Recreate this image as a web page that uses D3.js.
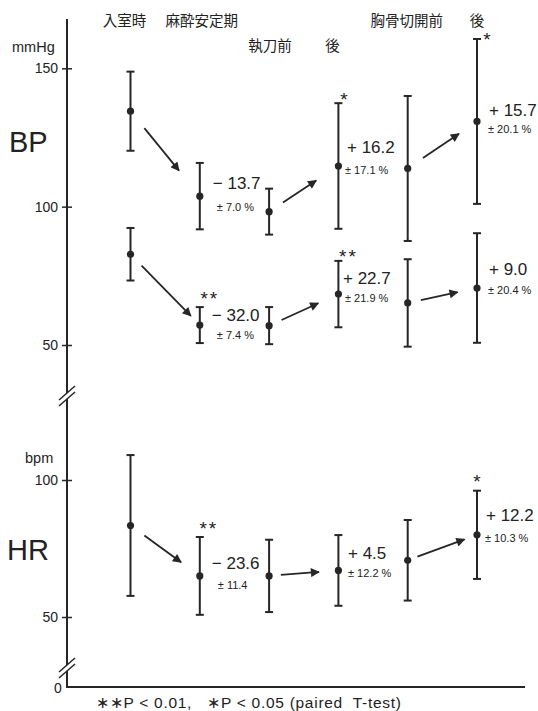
<!DOCTYPE html>
<html><head><meta charset="utf-8">
<script src="https://cdn.jsdelivr.net/npm/d3@7"></script>
<style>
body{margin:0;background:#fff;}
text{font-family:"Liberation Sans",Arial,sans-serif;fill:#222;}
.jp{font-family:"Noto Sans CJK JP",sans-serif;}
</style></head><body>
<svg id="c" width="538" height="711"></svg>
<script>
// ---- data ----
const timepoints = ["入室時","麻酔安定期","執刀前","後","胸骨切開前","後"];
const sbpMean = [134.5, 103.8, 98.2, 114.7, 113.8, 130.8];
const sbpSD   = [14.3, 12.0, 8.3, 22.7, 26.2, 29.8];
const dbpMean = [82.8, 57.2, 57.0, 68.4, 65.2, 70.6];
const dbpSD   = [9.5, 6.5, 6.7, 12.0, 15.8, 19.8];
const hrMean  = [83.4, 65.0, 65.0, 67.0, 70.7, 80.0];
const hrSD    = [25.7, 14.2, 13.2, 12.9, 14.7, 16.1];
const sbpChange = [null, "− 13.7", null, "+ 16.2", null, "+ 15.7"];
const sbpChangeSD = [null, "± 7.0 %", null, "± 17.1 %", null, "± 20.1 %"];
const sbpSig = ["", "", "", "*", "", "*"];
const dbpChange = [null, "− 32.0", null, "+ 22.7", null, "+ 9.0"];
const dbpChangeSD = [null, "± 7.4 %", null, "± 21.9 %", null, "± 20.4 %"];
const dbpSig = ["", "**", "", "**", "", ""];
const hrChange = [null, "− 23.6", null, "+ 4.5", null, "+ 12.2"];
const hrChangeSD = [null, "± 11.4", null, "± 12.2 %", null, "± 10.3 %"];
const hrSig = ["", "**", "", "", "", "*"];
const arrowPairs = [[0,1],[2,3],[4,5]];
const bpTicks = [50, 100, 150];
const hrTicks = [50, 100];
const footnote = "∗∗P < 0.01,   ∗P < 0.05 (paired  T-test)";

// ---- layout ----
const svg = d3.select("#c");
const axX = 67, axTop = 19, axBottom = 687, axRight = 525;
const x = d3.scalePoint().domain(d3.range(timepoints.length)).range([130.5, 477]);
const yBP = d3.scaleLinear().domain([50, 150]).range([345, 68.3]);
const yHR = d3.scaleLinear().domain([50, 100]).range([617, 480]);
const labelRow = [0,0,1,1,0,0];
const labelDx = [-6, 2, 1, -6, -1, 0];
const ink = "#262626";

// header labels
svg.append("g").selectAll("text").data(timepoints).join("text")
  .attr("class","jp")
  .attr("x", (d,i) => x(i) + labelDx[i])
  .attr("y", (d,i) => labelRow[i] ? 51 : 26)
  .attr("text-anchor","middle").attr("font-size",14.5)
  .text(d => d);

// axes
svg.append("line").attr("x1",axX).attr("x2",axX).attr("y1",axTop).attr("y2",axBottom)
  .attr("stroke",ink).attr("stroke-width",2);
svg.append("line").attr("x1",axX-1).attr("x2",axRight).attr("y1",axBottom).attr("y2",axBottom)
  .attr("stroke",ink).attr("stroke-width",2);

function drawAxis(scale, ticks) {
  const g = svg.append("g").attr("transform",`translate(${axX},0)`)
    .call(d3.axisLeft(scale).tickValues(ticks).tickSize(5).tickPadding(4));
  g.select(".domain").remove();
  g.selectAll(".tick line").attr("stroke",ink).attr("stroke-width",1.5);
  g.selectAll(".tick").append("line").attr("x1",0).attr("x2",5).attr("stroke",ink).attr("stroke-width",1.5);
  g.selectAll(".tick text").attr("font-size",14).attr("fill","#222")
    .attr("font-family","Liberation Sans, Arial, sans-serif");
}
drawAxis(yBP, bpTicks);
drawAxis(yHR, hrTicks);

// axis breaks
function brk(yc) {
  svg.append("rect").attr("x",axX-3).attr("y",yc-3).attr("width",6).attr("height",6).attr("fill","#fff");
  [-3, 3].forEach(o => {
    svg.append("line").attr("x1",axX-8).attr("y1",yc+o+7).attr("x2",axX+8).attr("y2",yc+o-7)
      .attr("stroke",ink).attr("stroke-width",1.5);
  });
}
brk(396); brk(668);

// unit labels
svg.append("text").attr("x",12).attr("y",52).attr("font-size",14.5).text("mmHg");
svg.append("text").attr("x",25).attr("y",463).attr("font-size",14.5).text("bpm");
svg.append("text").attr("x",54).attr("y",693).attr("font-size",14).text("0");
svg.append("text").attr("x",9).attr("y",152).attr("font-size",29).text("BP");
svg.append("text").attr("x",7).attr("y",560).attr("font-size",29).text("HR");

// arrow marker
svg.append("defs").append("marker").attr("id","ah")
  .attr("viewBox","0 0 10 10").attr("refX",9).attr("refY",5)
  .attr("markerWidth",11).attr("markerHeight",9).attr("markerUnits","userSpaceOnUse")
  .attr("orient","auto")
  .append("path").attr("d","M0,0 L10,5 L0,10 Z").attr("fill",ink);

function series(mean, sd, y, change, changeSD, sig, arrowT, lbl) {
  const g = svg.append("g");
  mean.forEach((m,i) => {
    const cx = x(i), y0 = y(m + sd[i]), y1 = y(m - sd[i]);
    g.append("line").attr("x1",cx).attr("x2",cx).attr("y1",y0).attr("y2",y1).attr("stroke",ink).attr("stroke-width",2);
    [y0,y1].forEach(yy => g.append("line").attr("x1",cx-4).attr("x2",cx+4).attr("y1",yy).attr("y2",yy).attr("stroke",ink).attr("stroke-width",2));
    g.append("circle").attr("cx",cx).attr("cy",y(m)).attr("r",3.6).attr("fill",ink);
    const L = lbl[i];
    if (change[i]) {
      g.append("text").attr("x",cx+L[0]).attr("y",y(m)+L[1]).attr("dominant-baseline","central")
        .attr("font-size",17).text(change[i]);
      g.append("text").attr("x",cx+L[2]).attr("y",y(m)+L[3]).attr("dominant-baseline","central")
        .attr("font-size",11).text(changeSD[i]);
    }
    if (sig[i]) {
      g.append("text").attr("x",cx+L[4]).attr("y",y0+L[5]).attr("font-size",19)
        .attr("text-anchor","middle").attr("letter-spacing",2).text(sig[i]);
    }
  });
  arrowPairs.forEach(([a,b],k) => {
    const p = [x(a), y(mean[a])], q = [x(b), y(mean[b])];
    const [t0,t1] = arrowT[k];
    g.append("line")
      .attr("x1",p[0]+(q[0]-p[0])*t0).attr("y1",p[1]+(q[1]-p[1])*t0)
      .attr("x2",p[0]+(q[0]-p[0])*t1).attr("y2",p[1]+(q[1]-p[1])*t1)
      .attr("stroke",ink).attr("stroke-width",1.8).attr("marker-end","url(#ah)");
  });
}
// label layout: [dxMain, dyMain, dxSub, dySub, sigDx, sigDy]
series(sbpMean, sbpSD, yBP, sbpChange, sbpChangeSD, sbpSig,
  [[0.2,0.70],[0.2,0.68],[0.22,0.74]],
  [null,[13,-13,17,11,0,0],null,[8.6,-18,6.6,4,6.6,2.4],null,[12,-11,11,8,11,6.7]]);
series(dbpMean, dbpSD, yBP, dbpChange, dbpChangeSD, dbpSig,
  [[0.16,0.87],[0.18,0.71],[0.19,0.72]],
  [null,[12,-10,17,9.5,10,-2],null,[4.6,-16,6.6,4,10,2],null,[12,-18,11,2,0,0]]);
series(hrMean, hrSD, yHR, hrChange, hrChangeSD, hrSig,
  [[0.2,0.73],[0.17,0.72],[0.14,0.82]],
  [null,[12,-12,18,9,9,-1.7],null,[9.6,-17,9.6,3,0,0],null,[9,-19,8,3,1,-2.4]]);

// footnote
svg.append("text").attr("x",96).attr("y",708).attr("font-size",15.5)
  .attr("textLength",305).attr("lengthAdjust","spacing")
  .style("white-space","pre").text(footnote);
</script>
</body></html>
